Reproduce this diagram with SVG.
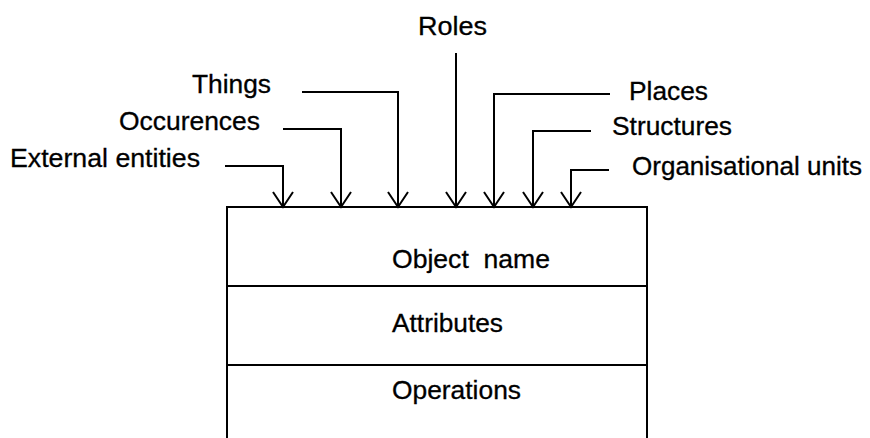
<svg xmlns="http://www.w3.org/2000/svg" width="870" height="438" viewBox="0 0 870 438">
<style>
text{font-family:"Liberation Sans",Arial,sans-serif;font-size:25px;fill:#000;stroke:#000;stroke-width:0.3}
.ln{fill:none;stroke:#000;stroke-width:2}
</style>
<defs>
<marker id="v" viewBox="-1 -11 18 22" refX="15" refY="0" markerWidth="18" markerHeight="22" markerUnits="userSpaceOnUse" orient="auto">
<path d="M0,-10 L15,0 L0,10" fill="none" stroke="#000" stroke-width="2"/>
</marker>
</defs>
<rect width="870" height="438" fill="#fff"/>
<g id="object">
<path class="ln" d="M227,440 V207 H647 V440"/>
<path class="ln" d="M227,286 H647 M227,365 H647"/>
<text x="392" y="268" textLength="158" lengthAdjust="spacingAndGlyphs" xml:space="preserve">Object  name</text>
<text x="392" y="332" textLength="111" lengthAdjust="spacingAndGlyphs">Attributes</text>
<text x="392" y="399" textLength="129" lengthAdjust="spacingAndGlyphs">Operations</text>
</g>
<g id="labels">
<text id="roles" x="418" y="35" textLength="69" lengthAdjust="spacingAndGlyphs">Roles</text>
<text id="things" x="192" y="93" textLength="79" lengthAdjust="spacingAndGlyphs">Things</text>
<text id="occurences" x="119" y="130" textLength="141" lengthAdjust="spacingAndGlyphs">Occurences</text>
<text id="external" x="10" y="167" textLength="190" lengthAdjust="spacingAndGlyphs">External entities</text>
<text id="places" x="629" y="100" textLength="79" lengthAdjust="spacingAndGlyphs">Places</text>
<text id="structures" x="612" y="135" textLength="120" lengthAdjust="spacingAndGlyphs">Structures</text>
<text id="orgunits" x="632" y="175" textLength="230" lengthAdjust="spacingAndGlyphs">Organisational units</text>
</g>
<g id="connectors">
<path class="ln" marker-end="url(#v)" d="M225,166 H283 V207"/>
<path class="ln" marker-end="url(#v)" d="M283,129 H341 V207"/>
<path class="ln" marker-end="url(#v)" d="M302,92 H398 V207"/>
<path class="ln" marker-end="url(#v)" d="M456,53 V207"/>
<path class="ln" marker-end="url(#v)" d="M610,94 H494 V207"/>
<path class="ln" marker-end="url(#v)" d="M591,131 H533 V207"/>
<path class="ln" marker-end="url(#v)" d="M609,170 H571 V207"/>
</g>
</svg>
